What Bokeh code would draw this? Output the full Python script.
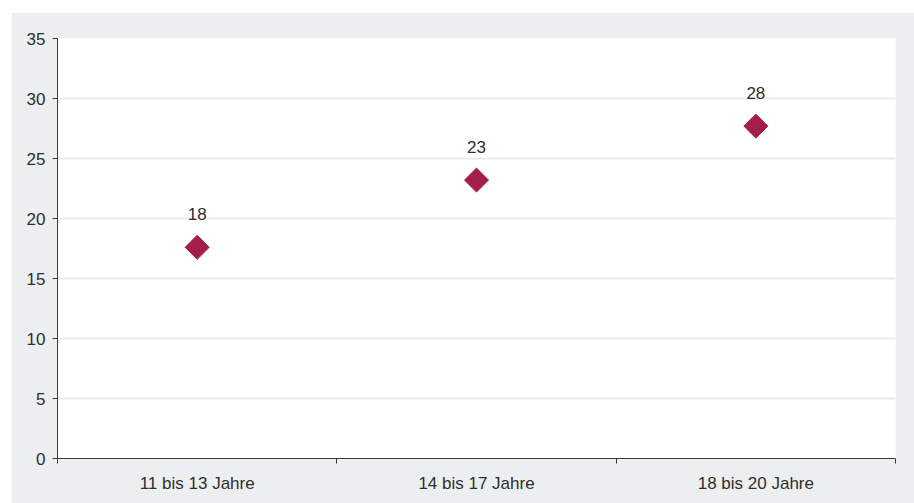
from bokeh.plotting import figure
from bokeh.models import ColumnDataSource, FixedTicker, Range1d
from bokeh.core.properties import value
from bokeh.embed import file_html
from bokeh.resources import INLINE
import math

categories = ["11 bis 13 Jahre", "14 bis 17 Jahre", "18 bis 20 Jahre"]
values = [17.6, 23.2, 27.7]
value_labels = ["18", "23", "28"]
y_ticks = [0, 5, 10, 15, 20, 25, 30, 35]

FONT = "Liberation Sans"
TXT = "#2e2e2e"

xs = [i + 0.5 for i in range(len(categories))]
src = ColumnDataSource(dict(x=xs, y=values, lab=value_labels))

p = figure(width=903, height=491, output_backend="svg", toolbar_location=None,
           x_range=Range1d(0, len(categories)), y_range=Range1d(0, 35),
           margin=(12, 0, 0, 11))
p.min_border_left = 46
p.min_border_right = 19
p.min_border_top = 26
p.min_border_bottom = 45
p.border_fill_color = "#edeef0"
p.background_fill_color = "white"
p.outline_line_color = None

p.xgrid.visible = False
p.ygrid.grid_line_color = "#ebebeb"
p.ygrid.grid_line_width = 2
p.ygrid.ticker = FixedTicker(ticks=y_ticks[1:-1])

ax = p.xaxis[0]
ax.ticker = FixedTicker(ticks=xs, minor_ticks=list(range(len(categories) + 1)))
ax.major_label_overrides = {x: c for x, c in zip(xs, categories)}
ax.major_tick_line_color = None
ax.minor_tick_line_color = "#3a3a3a"
ax.minor_tick_out = 5
ax.minor_tick_in = 0
ax.axis_line_color = "#3a3a3a"
ax.major_label_text_font = FONT
ax.major_label_text_font_size = "17px"
ax.major_label_text_color = TXT
ax.major_label_standoff = 9

ay = p.yaxis[0]
ay.ticker = FixedTicker(ticks=y_ticks)
ay.major_tick_out = 5
ay.major_tick_in = 0
ay.minor_tick_line_color = None
ay.major_tick_line_color = "#3a3a3a"
ay.axis_line_color = "#3a3a3a"
ay.major_label_text_font = FONT
ay.major_label_text_font_size = "17px"
ay.major_label_text_color = TXT
ay.major_label_standoff = 7

p.scatter("x", "y", source=src, marker="square", size=17, angle=math.pi / 4,
          fill_color="#a51d48", line_color="#a51d48")
p.text("x", "y", text="lab", source=src, y_offset=-33,
       text_align="center", text_baseline="middle",
       text_font=value(FONT), text_font_size="17px", text_color=TXT)

open("out.html", "w").write(file_html(p, INLINE))
